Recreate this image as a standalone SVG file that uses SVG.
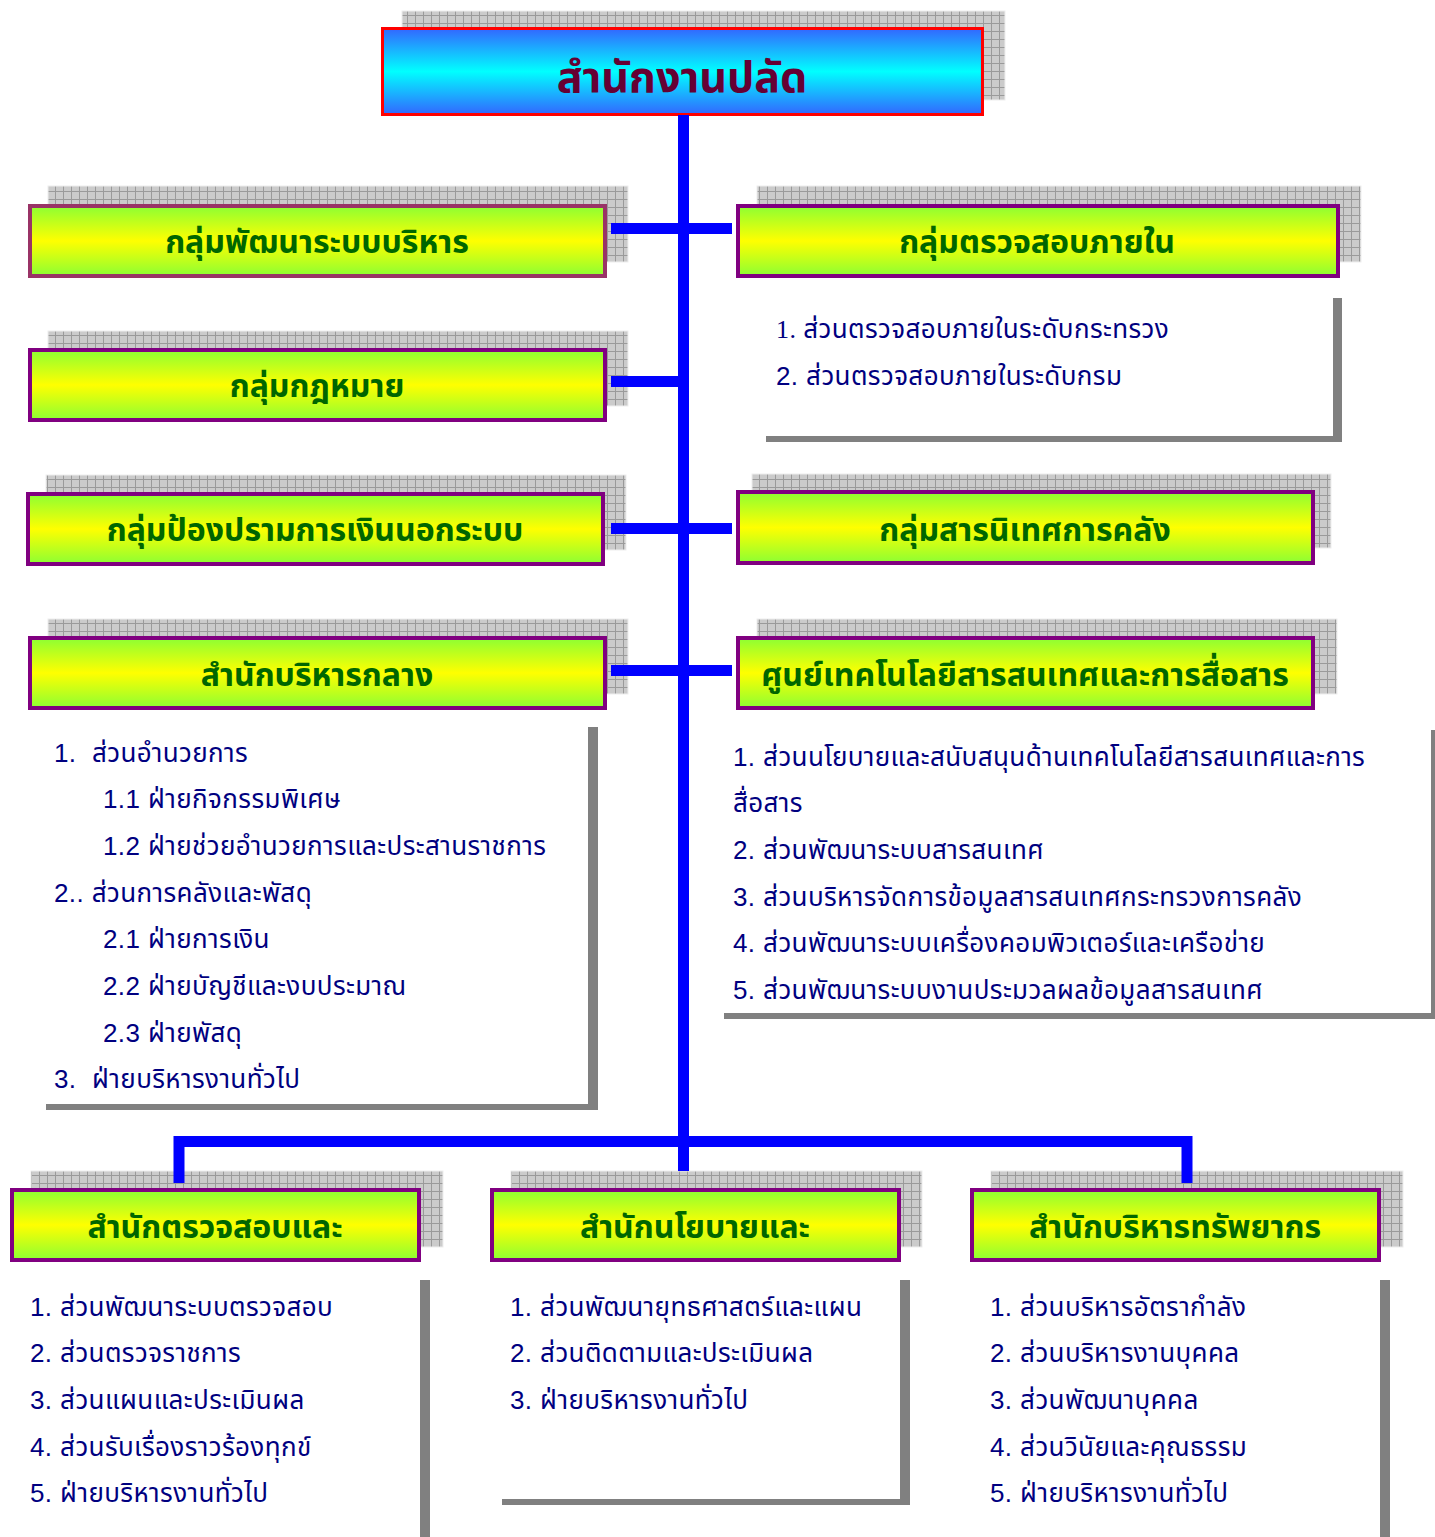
<svg xmlns="http://www.w3.org/2000/svg" width="1435" height="1537" viewBox="0 0 1435 1537">
<defs>
<pattern id="grid" width="8" height="8" patternUnits="userSpaceOnUse">
<rect width="8" height="8" fill="#cbcbcb"/>
<path d="M7.5 0V8M0 7.5H8" stroke="#9a9a9a" stroke-width="1"/>
</pattern>
<linearGradient id="gBlue" x1="0" y1="0" x2="0" y2="1">
<stop offset="0" stop-color="#3366ff"/><stop offset="0.5" stop-color="#00ffff"/><stop offset="1" stop-color="#3366ff"/>
</linearGradient>
<linearGradient id="gGreen" x1="0" y1="0" x2="0" y2="1">
<stop offset="0" stop-color="#8cff33"/><stop offset="0.5" stop-color="#ffff00"/><stop offset="1" stop-color="#8cff33"/>
</linearGradient>
<style>
.sh{fill:url(#grid);stroke:#eeeeee;stroke-width:1}
.box{fill:url(#gGreen);stroke:#800080;stroke-width:4}
.ttl{font-family:"Liberation Sans","Noto Sans Thai","Noto Sans",sans-serif;font-weight:bold;font-size:32px;fill:#006600;text-anchor:middle}
.li{font-family:"Liberation Sans","Noto Sans Thai","Noto Sans",sans-serif;font-size:26px;letter-spacing:0.4px;fill:#000080}
.pl{fill:#808080}
.cn{fill:none;stroke:#0000ff;stroke-width:11;stroke-linejoin:miter}
</style>
</defs>
<rect width="1435" height="1537" fill="#ffffff"/>

<g id="top">
<rect class="sh" x="402" y="11" width="603" height="89"/>
<rect x="382.5" y="28.5" width="600" height="86" fill="url(#gBlue)" stroke="#ff0000" stroke-width="3"/>
<text x="682" y="92" style="font-family:'Liberation Sans','Noto Sans Thai','Noto Sans',sans-serif;font-weight:bold;font-size:43px;fill:#660033;text-anchor:middle">สำนักงานปลัด</text>
</g>

<g id="n-admin-dev">
<rect class="sh" x="48" y="186" width="580" height="76"/>
<rect class="box" x="30" y="206" width="575" height="70" style="stroke:#993366"/>
<text class="ttl" x="317" y="253">กลุ่มพัฒนาระบบบริหาร</text>
</g>
<g id="n-law">
<rect class="sh" x="48" y="331" width="580" height="75"/>
<rect class="box" x="30" y="350" width="575" height="70"/>
<text class="ttl" x="317" y="397">กลุ่มกฎหมาย</text>
</g>
<g id="n-finance-prevent">
<rect class="sh" x="46" y="475" width="580" height="75"/>
<rect class="box" x="28" y="494" width="575" height="70"/>
<text class="ttl" x="315" y="541">กลุ่มป้องปรามการเงินนอกระบบ</text>
</g>
<g id="n-central">
<rect class="sh" x="48" y="619" width="580" height="75"/>
<rect class="box" x="30" y="638" width="575" height="70"/>
<text class="ttl" x="317" y="686">สำนักบริหารกลาง</text>
</g>

<g id="n-audit-internal">
<rect class="sh" x="757" y="186" width="604" height="76"/>
<rect class="box" x="738" y="206" width="600" height="70"/>
<text class="ttl" x="1037" y="253">กลุ่มตรวจสอบภายใน</text>
</g>
<g id="n-info">
<rect class="sh" x="752" y="474" width="579" height="74"/>
<rect class="box" x="738" y="492" width="575" height="71"/>
<text class="ttl" x="1025" y="541">กลุ่มสารนิเทศการคลัง</text>
</g>
<g id="n-ict">
<rect class="sh" x="757" y="619" width="580" height="75"/>
<rect class="box" x="738" y="638" width="575" height="70"/>
<text class="ttl" x="1025" y="686">ศูนย์เทคโนโลยีสารสนเทศและการสื่อสาร</text>
</g>

<g id="n-inspect">
<rect class="sh" x="31" y="1171" width="412" height="76"/>
<rect class="box" x="12" y="1190" width="407" height="70"/>
<text class="ttl" x="215" y="1238">สำนักตรวจสอบและ</text>
</g>
<g id="n-policy">
<rect class="sh" x="511" y="1171" width="411" height="76"/>
<rect class="box" x="492" y="1190" width="407" height="70"/>
<text class="ttl" x="695" y="1238">สำนักนโยบายและ</text>
</g>
<g id="n-hr">
<rect class="sh" x="991" y="1171" width="412" height="76"/>
<rect class="box" x="972" y="1190" width="407" height="70"/>
<text class="ttl" x="1175" y="1238">สำนักบริหารทรัพยากร</text>
</g>

<g id="connectors">
<path class="cn" d="M683.5 115V1171"/>
<path class="cn" d="M179 1183V1141.5H1187V1183"/>
<path class="cn" d="M611 228.5H732"/>
<path class="cn" d="M611 381.5H678"/>
<path class="cn" d="M611 528.5H732"/>
<path class="cn" d="M611 670.5H732"/>
</g>

<g id="list-audit-internal">
<rect class="pl" x="1333" y="298" width="9" height="143"/>
<rect class="pl" x="766" y="436" width="576" height="6"/>
<text class="li" x="776" y="338" style="font-family:'Liberation Serif','Noto Sans Thai',serif">1. ส่วนตรวจสอบภายในระดับกระทรวง</text>
<text class="li" x="776" y="385">2. ส่วนตรวจสอบภายในระดับกรม</text>
</g>

<g id="list-central">
<rect class="pl" x="588" y="727" width="10" height="383"/>
<rect class="pl" x="46" y="1104" width="552" height="6"/>
<text class="li" x="54" y="762">1.</text><text class="li" x="92" y="762">ส่วนอำนวยการ</text>
<text class="li" x="103" y="808">1.1 ฝ่ายกิจกรรมพิเศษ</text>
<text class="li" x="103" y="855">1.2 ฝ่ายช่วยอำนวยการและประสานราชการ</text>
<text class="li" x="54" y="902">2.. ส่วนการคลังและพัสดุ</text>
<text class="li" x="103" y="948">2.1 ฝ่ายการเงิน</text>
<text class="li" x="103" y="995">2.2 ฝ่ายบัญชีและงบประมาณ</text>
<text class="li" x="103" y="1042">2.3 ฝ่ายพัสดุ</text>
<text class="li" x="54" y="1088">3.</text><text class="li" x="92" y="1088">ฝ่ายบริหารงานทั่วไป</text>
</g>

<g id="list-ict">
<rect class="pl" x="1431" y="730" width="4" height="289"/>
<rect class="pl" x="724" y="1013" width="711" height="6"/>
<text class="li" x="733" y="766">1. ส่วนนโยบายและสนับสนุนด้านเทคโนโลยีสารสนเทศและการ</text>
<text class="li" x="733" y="812">สื่อสาร</text>
<text class="li" x="733" y="859">2. ส่วนพัฒนาระบบสารสนเทศ</text>
<text class="li" x="733" y="906">3. ส่วนบริหารจัดการข้อมูลสารสนเทศกระทรวงการคลัง</text>
<text class="li" x="733" y="952">4. ส่วนพัฒนาระบบเครื่องคอมพิวเตอร์และเครือข่าย</text>
<text class="li" x="733" y="999">5. ส่วนพัฒนาระบบงานประมวลผลข้อมูลสารสนเทศ</text>
</g>

<g id="list-inspect">
<rect class="pl" x="420" y="1280" width="10" height="257"/>
<text class="li" x="30" y="1316">1. ส่วนพัฒนาระบบตรวจสอบ</text>
<text class="li" x="30" y="1362">2. ส่วนตรวจราชการ</text>
<text class="li" x="30" y="1409">3. ส่วนแผนและประเมินผล</text>
<text class="li" x="30" y="1456">4. ส่วนรับเรื่องราวร้องทุกข์</text>
<text class="li" x="30" y="1502">5. ฝ่ายบริหารงานทั่วไป</text>
</g>

<g id="list-policy">
<rect class="pl" x="900" y="1280" width="10" height="225"/>
<rect class="pl" x="502" y="1499" width="408" height="6"/>
<text class="li" x="510" y="1316">1. ส่วนพัฒนายุทธศาสตร์และแผน</text>
<text class="li" x="510" y="1362">2. ส่วนติดตามและประเมินผล</text>
<text class="li" x="510" y="1409">3. ฝ่ายบริหารงานทั่วไป</text>
</g>

<g id="list-hr">
<rect class="pl" x="1380" y="1280" width="10" height="257"/>
<text class="li" x="990" y="1316">1. ส่วนบริหารอัตรากำลัง</text>
<text class="li" x="990" y="1362">2. ส่วนบริหารงานบุคคล</text>
<text class="li" x="990" y="1409">3. ส่วนพัฒนาบุคคล</text>
<text class="li" x="990" y="1456">4. ส่วนวินัยและคุณธรรม</text>
<text class="li" x="990" y="1502">5. ฝ่ายบริหารงานทั่วไป</text>
</g>
</svg>
